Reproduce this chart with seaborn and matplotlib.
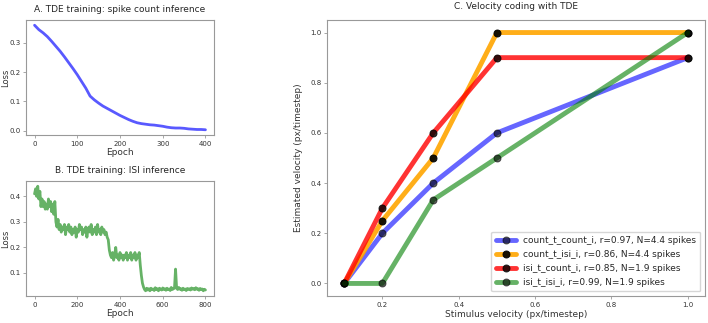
import numpy as np
import pandas as pd
import matplotlib
matplotlib.use("Agg")
import matplotlib.pyplot as plt
import seaborn as sns

# loss per 10 epochs, spike count inference
loss_count = [0.360, 0.345, 0.334, 0.321, 0.305, 0.288, 0.271, 0.252, 0.232, 0.212,
              0.191, 0.168, 0.145, 0.118, 0.105, 0.094, 0.084, 0.076, 0.068, 0.060,
              0.052, 0.045, 0.038, 0.032, 0.027, 0.024, 0.022, 0.020, 0.019, 0.017,
              0.015, 0.012, 0.010, 0.009, 0.009, 0.008, 0.006, 0.005, 0.004, 0.004,
              0.003]

# loss per 5 epochs, ISI inference
loss_isi = [0.41, 0.43, 0.40, 0.44, 0.39, 0.42, 0.36, 0.39, 0.36, 0.38,
            0.35, 0.37, 0.35, 0.39, 0.36, 0.38, 0.34, 0.37, 0.33, 0.38,
            0.30, 0.28, 0.31, 0.27, 0.29, 0.26, 0.28, 0.27, 0.29, 0.25,
            0.28, 0.27, 0.29, 0.26, 0.28, 0.25, 0.27, 0.26, 0.28, 0.24,
            0.27, 0.26, 0.29, 0.27, 0.28, 0.25, 0.27, 0.26, 0.28, 0.24,
            0.27, 0.28, 0.26, 0.29, 0.25, 0.27, 0.26, 0.28, 0.25, 0.29,
            0.26, 0.27, 0.25, 0.28, 0.26, 0.27, 0.25, 0.26, 0.24, 0.23,
            0.19, 0.17, 0.16, 0.18, 0.15, 0.17, 0.20, 0.16, 0.17, 0.15,
            0.18, 0.16, 0.17, 0.15, 0.17, 0.16, 0.18, 0.15, 0.17, 0.16,
            0.18, 0.15, 0.17, 0.16, 0.18, 0.15, 0.17, 0.16, 0.18, 0.13,
            0.09, 0.06, 0.045, 0.035, 0.030, 0.040, 0.033, 0.038, 0.030, 0.040,
            0.034, 0.037, 0.031, 0.042, 0.035, 0.038, 0.030, 0.040, 0.036, 0.033,
            0.041, 0.035, 0.038, 0.032, 0.040, 0.034, 0.037, 0.031, 0.043, 0.035,
            0.038, 0.040, 0.115, 0.040, 0.035, 0.043, 0.036, 0.038, 0.032, 0.040,
            0.034, 0.037, 0.031, 0.039, 0.035, 0.038, 0.033, 0.041, 0.036, 0.039,
            0.034, 0.042, 0.036, 0.038, 0.032, 0.039, 0.035, 0.037, 0.030, 0.036,
            0.033]

stim_vel = [0.1, 0.2, 1 / 3, 0.5, 1.0]
est_count_count = [0.0, 0.2, 0.4, 0.6, 0.9]
est_count_isi = [0.0, 0.25, 0.5, 1.0, 1.0]
est_isi_count = [0.0, 0.3, 0.6, 0.9, 0.9]
est_isi_isi = [0.0, 0.0, 1 / 3, 0.5, 1.0]

labels = ["count_t_count_i, r=0.97, N=4.4 spikes",
          "count_t_isi_i, r=0.86, N=4.4 spikes",
          "isi_t_count_i, r=0.85, N=1.9 spikes",
          "isi_t_isi_i, r=0.99, N=1.9 spikes"]

sns.set_style("white")
plt.rcParams['font.family'] = ['DejaVu Sans']

fig = plt.figure(figsize=(7.08, 3.23), dpi=100)
W, H = 708, 323
def box(l, t, r, b):
    return [l / W, 1 - b / H, (r - l) / W, (b - t) / H]

ax_a = fig.add_axes(box(26, 20, 214, 135))
ax_b = fig.add_axes(box(26, 181, 214, 296))
ax_c = fig.add_axes(box(327, 20, 705, 296))

tick_fs = 5
label_fs = 6.5
title_fs = 6.5

def style(ax):
    for s in ax.spines.values():
        s.set_color("0.6")
        s.set_linewidth(0.8)
    ax.tick_params(axis="both", labelsize=tick_fs, length=2, width=0.6,
                   colors="0.6", labelcolor="0.2", bottom=True, left=True, pad=2)

# A
epochs_a = np.arange(len(loss_count)) * 10
sns.lineplot(x=epochs_a, y=loss_count, ax=ax_a, color="blue", alpha=0.65, lw=2)
ax_a.set_title("A. TDE training: spike count inference", fontsize=title_fs, pad=6, color="0.15")
ax_a.set_xlabel("Epoch", fontsize=label_fs, labelpad=1, color="0.2")
ax_a.set_ylabel("Loss", fontsize=6, color="0.2")
ax_a.yaxis.set_label_coords(-0.082, 0.5)
ax_a.set_xticks([0, 100, 200, 300, 400])
ax_a.set_yticks([0.0, 0.1, 0.2, 0.3])
style(ax_a)

# B
epochs_b = np.arange(len(loss_isi)) * 5
sns.lineplot(x=epochs_b, y=loss_isi, ax=ax_b, color="green", alpha=0.6, lw=2)
ax_b.set_title("B. TDE training: ISI inference", fontsize=title_fs, pad=6, color="0.15")
ax_b.set_xlabel("Epoch", fontsize=label_fs, labelpad=1, color="0.2")
ax_b.set_ylabel("Loss", fontsize=6, color="0.2")
ax_b.yaxis.set_label_coords(-0.082, 0.5)
ax_b.set_xticks([0, 200, 400, 600, 800])
ax_b.set_yticks([0.1, 0.2, 0.3, 0.4])
style(ax_b)

# C
series = [est_count_count, est_count_isi, est_isi_count, est_isi_isi]
colors = ["blue", "orange", "red", "green"]
alphas = [0.6, 0.9, 0.8, 0.6]
for ys, c, a, lab in zip(series, colors, alphas, labels):
    sns.lineplot(x=stim_vel, y=ys, ax=ax_c, color=c, alpha=a, lw=3.5, marker="o",
                 markersize=5, markerfacecolor="black", markeredgecolor="black",
                 label=lab)
ax_c.set_title("C. Velocity coding with TDE", fontsize=title_fs, pad=8, color="0.15")
ax_c.set_xlabel("Stimulus velocity (px/timestep)", fontsize=label_fs, labelpad=2, color="0.2")
ax_c.set_ylabel("Estimated velocity (px/timestep)", fontsize=label_fs, color="0.2")
ax_c.yaxis.set_label_coords(-0.063, 0.5)
ax_c.set_xticks([0.2, 0.4, 0.6, 0.8, 1.0])
ax_c.set_yticks([0.0, 0.2, 0.4, 0.6, 0.8, 1.0])
style(ax_c)
ax_c.legend(loc="lower right", fontsize=6.5, frameon=True, handlelength=2.2,
            borderpad=0.5, labelspacing=0.55)

fig.savefig("out.png", dpi=100)
